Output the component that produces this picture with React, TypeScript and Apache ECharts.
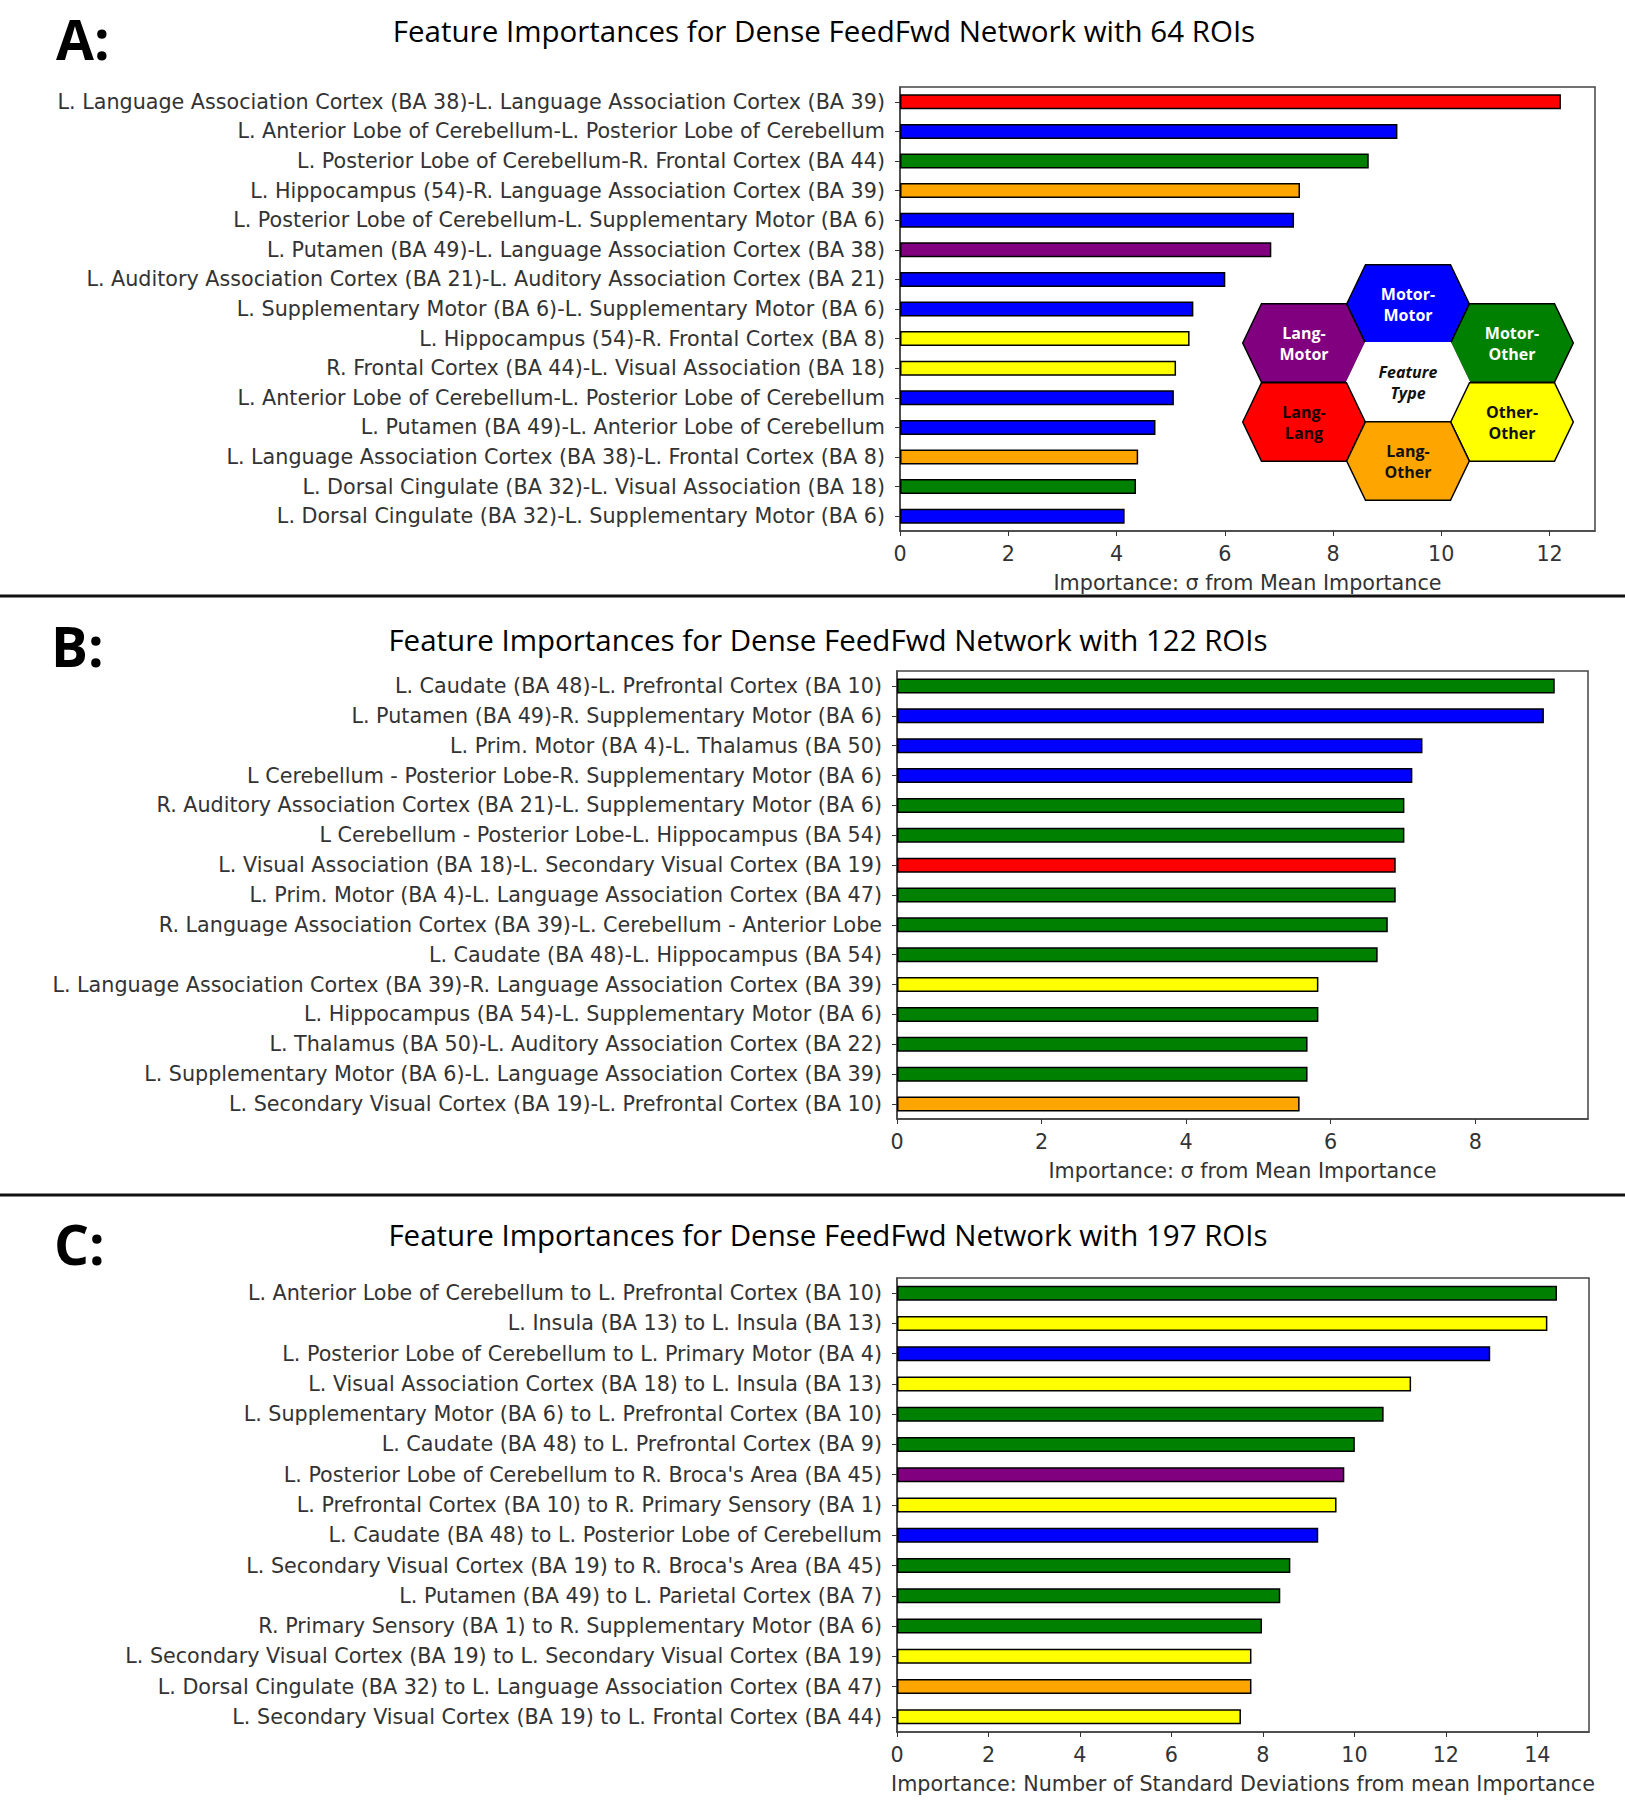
import React, { useEffect, useRef } from "react";
import * as echarts from "echarts";

// ---------- DATA ----------
const labelsA = [
  "L. Language Association Cortex (BA 38)-L. Language Association Cortex (BA 39)",
  "L. Anterior Lobe of Cerebellum-L. Posterior Lobe of Cerebellum",
  "L. Posterior Lobe of Cerebellum-R. Frontal Cortex (BA 44)",
  "L. Hippocampus (54)-R. Language Association Cortex (BA 39)",
  "L. Posterior Lobe of Cerebellum-L. Supplementary Motor (BA 6)",
  "L. Putamen (BA 49)-L. Language Association Cortex (BA 38)",
  "L. Auditory Association Cortex (BA 21)-L. Auditory Association Cortex (BA 21)",
  "L. Supplementary Motor (BA 6)-L. Supplementary Motor (BA 6)",
  "L. Hippocampus (54)-R. Frontal Cortex (BA 8)",
  "R. Frontal Cortex (BA 44)-L. Visual Association (BA 18)",
  "L. Anterior Lobe of Cerebellum-L. Posterior Lobe of Cerebellum",
  "L. Putamen (BA 49)-L. Anterior Lobe of Cerebellum",
  "L. Language Association Cortex (BA 38)-L. Frontal Cortex (BA 8)",
  "L. Dorsal Cingulate (BA 32)-L. Visual Association (BA 18)",
  "L. Dorsal Cingulate (BA 32)-L. Supplementary Motor (BA 6)",
];
const valuesA = [12.21, 9.19, 8.66, 7.39, 7.28, 6.86, 6.01, 5.42, 5.35, 5.1, 5.06, 4.72, 4.4, 4.36, 4.15];
const typesA = [
  "Lang-Lang", "Motor-Motor", "Motor-Other", "Lang-Other", "Motor-Motor",
  "Lang-Motor", "Motor-Motor", "Motor-Motor", "Other-Other", "Other-Other",
  "Motor-Motor", "Motor-Motor", "Lang-Other", "Motor-Other", "Motor-Motor",
];

const labelsB = [
  "L. Caudate (BA 48)-L. Prefrontal Cortex (BA 10)",
  "L. Putamen (BA 49)-R. Supplementary Motor (BA 6)",
  "L. Prim. Motor (BA 4)-L. Thalamus (BA 50)",
  "L Cerebellum - Posterior Lobe-R. Supplementary Motor (BA 6)",
  "R. Auditory Association Cortex (BA 21)-L. Supplementary Motor (BA 6)",
  "L Cerebellum - Posterior Lobe-L. Hippocampus (BA 54)",
  "L. Visual Association (BA 18)-L. Secondary Visual Cortex (BA 19)",
  "L. Prim. Motor (BA 4)-L. Language Association Cortex (BA 47)",
  "R. Language Association Cortex (BA 39)-L. Cerebellum - Anterior Lobe",
  "L. Caudate (BA 48)-L. Hippocampus (BA 54)",
  "L. Language Association Cortex (BA 39)-R. Language Association Cortex (BA 39)",
  "L. Hippocampus (BA 54)-L. Supplementary Motor (BA 6)",
  "L. Thalamus (BA 50)-L. Auditory Association Cortex (BA 22)",
  "L. Supplementary Motor (BA 6)-L. Language Association Cortex (BA 39)",
  "L. Secondary Visual Cortex (BA 19)-L. Prefrontal Cortex (BA 10)",
];
const valuesB = [9.1, 8.95, 7.27, 7.13, 7.02, 7.02, 6.9, 6.9, 6.79, 6.65, 5.83, 5.83, 5.68, 5.68, 5.57];
const typesB = [
  "Motor-Other", "Motor-Motor", "Motor-Motor", "Motor-Motor", "Motor-Other",
  "Motor-Other", "Lang-Lang", "Motor-Other", "Motor-Other", "Motor-Other",
  "Other-Other", "Motor-Other", "Motor-Other", "Motor-Other", "Lang-Other",
];

const labelsC = [
  "L. Anterior Lobe of Cerebellum to L. Prefrontal Cortex (BA 10)",
  "L. Insula (BA 13) to L. Insula (BA 13)",
  "L. Posterior Lobe of Cerebellum to L. Primary Motor (BA 4)",
  "L. Visual Association Cortex (BA 18) to L. Insula (BA 13)",
  "L. Supplementary Motor (BA 6) to L. Prefrontal Cortex (BA 10)",
  "L. Caudate (BA 48) to L. Prefrontal Cortex (BA 9)",
  "L. Posterior Lobe of Cerebellum to R. Broca's Area (BA 45)",
  "L. Prefrontal Cortex (BA 10) to R. Primary Sensory (BA 1)",
  "L. Caudate (BA 48) to L. Posterior Lobe of Cerebellum",
  "L. Secondary Visual Cortex (BA 19) to R. Broca's Area (BA 45)",
  "L. Putamen (BA 49) to L. Parietal Cortex (BA 7)",
  "R. Primary Sensory (BA 1) to R. Supplementary Motor (BA 6)",
  "L. Secondary Visual Cortex (BA 19) to L. Secondary Visual Cortex (BA 19)",
  "L. Dorsal Cingulate (BA 32) to L. Language Association Cortex (BA 47)",
  "L. Secondary Visual Cortex (BA 19) to L. Frontal Cortex (BA 44)",
];
const valuesC = [14.43, 14.22, 12.97, 11.24, 10.64, 10.01, 9.78, 9.61, 9.21, 8.6, 8.38, 7.98, 7.75, 7.75, 7.52];
const typesC = [
  "Motor-Other", "Other-Other", "Motor-Motor", "Other-Other", "Motor-Other",
  "Motor-Other", "Lang-Motor", "Other-Other", "Motor-Motor", "Motor-Other",
  "Motor-Other", "Motor-Other", "Other-Other", "Lang-Other", "Other-Other",
];

const titles = [
  "Feature Importances for Dense FeedFwd Network with 64 ROIs",
  "Feature Importances for Dense FeedFwd Network with 122 ROIs",
  "Feature Importances for Dense FeedFwd Network with 197 ROIs",
];
const panelLetters = ["A:", "B:", "C:"];
const axisNames = [
  "Importance: \u03c3 from Mean Importance",
  "Importance: \u03c3 from Mean Importance",
  "Importance: Number of Standard Deviations from mean Importance",
];
const xMaxes = [12.84, 9.56, 15.13];
const xTicks = [
  [0, 2, 4, 6, 8, 10, 12],
  [0, 2, 4, 6, 8],
  [0, 2, 4, 6, 8, 10, 12, 14],
];

const legendTypes = ["Motor-Motor", "Lang-Motor", "Motor-Other", "Feature Type", "Lang-Lang", "Other-Other", "Lang-Other"];
const legendTexts = ["Motor-\nMotor", "Lang-\nMotor", "Motor-\nOther", "Feature\nType", "Lang-\nLang", "Other-\nOther", "Lang-\nOther"];

// ---------- STYLE ----------
const typeColors: Record<string, string> = {
  "Lang-Lang": "#ff0000",
  "Motor-Motor": "#0000ff",
  "Motor-Other": "#008000",
  "Lang-Other": "#ffa500",
  "Other-Other": "#ffff00",
  "Lang-Motor": "#800080",
  "Feature Type": "#ffffff",
};
const textColors: Record<string, string> = {
  "Lang-Lang": "#1a0000",
  "Motor-Motor": "#ffffff",
  "Motor-Other": "#ffffff",
  "Lang-Other": "#111111",
  "Other-Other": "#111111",
  "Lang-Motor": "#ffffff",
  "Feature Type": "#111111",
};

const grids = [
  { left: 900, top: 87, width: 695, height: 444 },
  { left: 897, top: 671, width: 691, height: 448 },
  { left: 897, top: 1278, width: 692, height: 454 },
];
const titleY = [30, 639, 1234];
const titleX = [824, 828, 828];
const letterPos = [
  { x: 56, y: 38 },
  { x: 51, y: 645 },
  { x: 54, y: 1243 },
];
const separatorsY = [596, 1195];

// hexagon layout (centres)
const hexCenters = [
  [1408, 304],
  [1304, 343],
  [1512, 343],
  [1408, 382],
  [1304, 422],
  [1512, 422],
  [1408, 461],
];
const HEX_R = 61.3;
const HEX_A = 42.5;
const HEX_H = 39.2;

const labelFont = "DejaVu Sans";
const labelSize = 20.7;

export default function App() {
  const ref = useRef<HTMLDivElement>(null);

  useEffect(() => {
    if (!ref.current) return;
    const chart = echarts.init(ref.current, null, { renderer: "svg" });

    const panels = [
      { labels: labelsA, values: valuesA, types: typesA },
      { labels: labelsB, values: valuesB, types: typesB },
      { labels: labelsC, values: valuesC, types: typesC },
    ];

    const gridOpts = grids.map((g) => ({
      ...g,
      show: true,
      borderColor: "#444",
      borderWidth: 1.5,
      backgroundColor: "#fff",
      containLabel: false,
    }));

    const xAxes = panels.map((_, i) => ({
      type: "value",
      gridIndex: i,
      min: 0,
      max: xMaxes[i],
      interval: 2,
      name: axisNames[i],
      nameLocation: "middle",
      nameGap: 41,
      nameTextStyle: { fontFamily: labelFont, fontSize: labelSize, color: "#333" },
      splitLine: { show: false },
      axisLine: { show: true, lineStyle: { color: "#444", width: 1.5 } },
      axisTick: { show: true, length: 5, customValues: xTicks[i], lineStyle: { color: "#333" } },
      axisLabel: {
        customValues: xTicks[i],
        fontFamily: labelFont,
        fontSize: labelSize,
        color: "#333",
        margin: 12,
      },
    }));

    const yAxes = panels.map((p, i) => ({
      type: "category",
      gridIndex: i,
      data: p.labels,
      inverse: true,
      axisLine: { show: true, lineStyle: { color: "#444", width: 1.5 } },
      axisTick: { show: true, length: 5, alignWithLabel: true, lineStyle: { color: "#333" } },
      axisLabel: { fontFamily: labelFont, fontSize: labelSize, color: "#333", margin: 15, interval: 0 },
      splitLine: { show: false },
    }));

    const series = panels.map((p, i) => ({
      type: "bar",
      xAxisIndex: i,
      yAxisIndex: i,
      barWidth: 15,
      data: p.values.map((v, j) => ({
        value: v,
        itemStyle: { color: typeColors[p.types[j]] },
      })),
      itemStyle: { borderColor: "#000", borderWidth: 1.5 },
    }));

    const graphics: any[] = [];
    titles.forEach((t, i) => {
      graphics.push({
        type: "text",
        z: 100,
        style: {
          text: t,
          x: titleX[i],
          y: titleY[i],
          textAlign: "center",
          textVerticalAlign: "middle",
          align: "center",
          verticalAlign: "middle",
          font: '29.5px "Open Sans"',
          fill: "#000",
        },
      });
      graphics.push({
        type: "text",
        z: 100,
        style: {
          text: panelLetters[i],
          x: letterPos[i].x,
          y: letterPos[i].y,
          textAlign: "left",
          textVerticalAlign: "middle",
          align: "left",
          verticalAlign: "middle",
          font: 'bold 55px "Open Sans"',
          fill: "#000",
        },
      });
    });
    separatorsY.forEach((y) => {
      graphics.push({
        type: "line",
        z: 100,
        shape: { x1: 0, y1: y, x2: 1625, y2: y },
        style: { stroke: "#111", lineWidth: 3 },
      });
    });
    legendTypes.forEach((t, i) => {
      const [cx, cy] = hexCenters[i];
      graphics.push({
        type: "polygon",
        z: 100,
        shape: {
          points: [
            [cx - HEX_R, cy],
            [cx - HEX_A, cy - HEX_H],
            [cx + HEX_A, cy - HEX_H],
            [cx + HEX_R, cy],
            [cx + HEX_A, cy + HEX_H],
            [cx - HEX_A, cy + HEX_H],
          ],
        },
        style: { fill: typeColors[t], stroke: t === "Feature Type" ? "#fff" : "#000", lineWidth: 1.5 },
      });
    });
    legendTypes.forEach((t, i) => {
      const [cx, cy] = hexCenters[i];
      graphics.push({
        type: "text",
        z: 101,
        style: {
          text: legendTexts[i],
          x: cx,
          y: cy,
          textAlign: "center",
          textVerticalAlign: "middle",
          align: "center",
          verticalAlign: "middle",
          font: (t === "Feature Type" ? "italic bold " : "bold ") + '16px "Open Sans"',
          lineHeight: 21,
          fill: textColors[t],
        },
      });
    });

    chart.setOption({
      animation: false,
      backgroundColor: "#fff",
      grid: gridOpts,
      xAxis: xAxes,
      yAxis: yAxes,
      series,
      graphic: graphics,
    });

    return () => chart.dispose();
  }, []);

  return (
    <div
      ref={ref}
      style={{ position: "absolute", left: 0, top: 0, width: 1625, height: 1800, background: "#fff" }}
    />
  );
}
